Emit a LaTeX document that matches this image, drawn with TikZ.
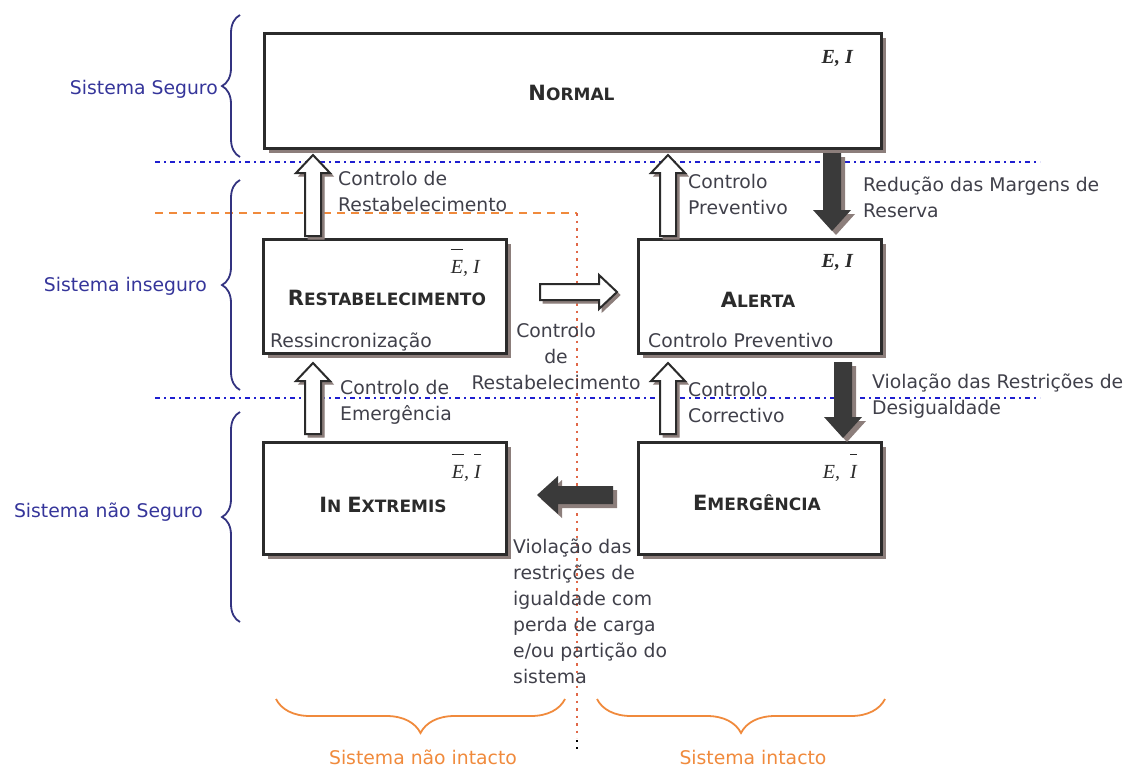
\documentclass[tikz,border=0pt]{standalone}
\usepackage{fontspec}
\setmainfont{DejaVu Sans}
\newfontfamily\tnr{Liberation Serif}
\usetikzlibrary{calc,shadows,decorations.pathreplacing}

\definecolor{boxline}{HTML}{2B2B2B}
\definecolor{shadowc}{HTML}{8C7E7B}
\definecolor{txt}{HTML}{40404A}
\definecolor{navy}{HTML}{35359A}
\definecolor{bracec}{HTML}{333380}
\definecolor{bluel}{HTML}{1F1FD0}
\definecolor{orangel}{HTML}{F08A3C}
\definecolor{redl}{HTML}{E06848}
\definecolor{darkarr}{HTML}{3A3A3A}

\newcommand\lblfont{\fontsize{18.8}{26}\selectfont}
\newcommand\bigcapf{\fontsize{21}{24}\selectfont}
\newcommand\smcapf{\fontsize{17}{20}\selectfont}
\newcommand\mthfont{\tnr\itshape\fontsize{20}{22}\selectfont}
\newcommand\myovl[1]{\setbox0\hbox{#1}\rlap{\raisebox{23pt}{\rule{\wd0}{1.3pt}}}\box0}

% block arrow: style, from, to, half shaft, half head, head length
\newcommand\blkarrow[6]{%
  \path[#1] let \p1=(#2), \p2=(#3), \p3=($(\p2)!#6!(\p1)$) in
    ($(\p1)!#4!90:(\p2)$) -- ($(\p3)!#4!90:(\p2)$) -- ($(\p3)!#5!90:(\p2)$) -- (\p2)
    -- ($(\p3)!#5!-90:(\p2)$) -- ($(\p3)!#4!-90:(\p2)$) -- ($(\p1)!#4!-90:(\p2)$) -- cycle;}
\newcommand\hollowblk[2]{%
  \blkarrow{fill=shadowc,draw=shadowc,line width=1pt,transform canvas={shift={(3pt,-3pt)}}}{#1}{#2}{8pt}{17pt}{18pt}%
  \blkarrow{fill=white,draw=boxline,line width=2pt,line join=miter}{#1}{#2}{8pt}{17pt}{18pt}}
\newcommand\darkblk[2]{%
  \blkarrow{fill=shadowc,transform canvas={shift={(4pt,-4pt)}}}{#1}{#2}{9pt}{19pt}{21pt}%
  \blkarrow{fill=darkarr}{#1}{#2}{9pt}{19pt}{21pt}}

\tikzset{
  box/.style={draw=boxline, line width=2.5pt, fill=white, anchor=north west, inner sep=0pt,
    general shadow={fill=shadowc, shadow xshift=5pt, shadow yshift=-5pt}},
  lab/.style={text=txt, font=\lblfont, inner sep=0pt, align=left, anchor=north west},
  slab/.style={text=txt, font=\lblfont, inner sep=0pt, anchor=base west},
  side/.style={text=navy, font=\lblfont, inner sep=0pt, anchor=base east},
  bot/.style={text=orangel, font=\lblfont, inner sep=0pt, anchor=base},
  ttl/.style={text=boxline, font=\bfseries, inner sep=0pt, anchor=base},
  mth/.style={text=boxline, font=\mthfont, inner sep=0pt, anchor=base east},
  blueline/.style={draw=bluel, line width=2pt, dash pattern=on 5pt off 4pt on 2pt off 4pt},
  orangeline/.style={draw=orangel, line width=1.5pt, dash pattern=on 8pt off 6pt},
  redline/.style={draw=redl, line width=1.6pt, dash pattern=on 2.5pt off 5pt},
  lbrace/.style={draw=bracec, line width=1.8pt, decorate, decoration={brace, amplitude=18pt}},
  obrace/.style={draw=orangel, line width=1.8pt, decorate, decoration={brace, amplitude=34pt}},
}

\begin{document}
\begin{tikzpicture}[x=1pt,y=-1pt]
\useasboundingbox (0,0) rectangle (1130,769);

% separator lines
\draw[blueline] (155,162) -- (1040,162);
\draw[blueline] (155,398) -- (1040,398);
\draw[orangeline] (155,213) -- (577,213);
\draw[redline] (577,213) -- (577,738);
\draw[draw=black, line width=1.6pt, dash pattern=on 2pt off 5pt] (577,740) -- (577,752);

% boxes
\node[box, minimum width=617pt, minimum height=115pt] (normal) at (263,32) {};
\node[box, minimum width=243pt, minimum height=114pt] (restab) at (262,238) {};
\node[box, minimum width=243pt, minimum height=114pt] (alerta) at (637,238) {};
\node[box, minimum width=243pt, minimum height=112pt] (inext) at (262,441) {};
\node[box, minimum width=243pt, minimum height=112pt] (emerg) at (637,441) {};

% titles
\node[ttl] (tnormal) at (571.5,100) {\bigcapf N\smcapf ORMAL};
\node[ttl] (trestab) at (387,305) {\bigcapf R\smcapf ESTABELECIMENTO};
\node[ttl] (talerta) at (758,307) {\bigcapf A\smcapf LERTA};
\node[ttl] (tinext) at (383,512) {\bigcapf I\smcapf N \bigcapf E\smcapf XTREMIS};
\node[ttl] (temerg) at (757,510) {\bigcapf E\smcapf MERGÊNCIA};

% state labels
\node[mth, font=\mthfont\bfseries] (mnormal) at (853,63) {E, I};
\node[mth] (mrestab) at (480,273) {\myovl{E} , I};
\node[mth, font=\mthfont\bfseries] (malerta) at (853,267) {E, I};
\node[mth] (minext) at (481,478) {\myovl{E} , \myovl{I}};
\node[mth] (memerg) at (857,478) {E,\enspace\myovl{I}};

\node[slab] (ressinc) at (270,347) {Ressincronização};
\node[slab] (cprev) at (648,347) {Controlo Preventivo};

% arrows
\coordinate (a1s) at (313,236); \coordinate (a1e) at (313,155);
\coordinate (a2s) at (668,236); \coordinate (a2e) at (668,155);
\coordinate (a3s) at (832,153); \coordinate (a3e) at (832,231);
\coordinate (a4s) at (540,292); \coordinate (a4e) at (617,292);
\coordinate (a5s) at (313,434); \coordinate (a5e) at (313,363);
\coordinate (a6s) at (668,434); \coordinate (a6e) at (668,363);
\coordinate (a7s) at (843,362); \coordinate (a7e) at (843,438);
\coordinate (a8s) at (613,495); \coordinate (a8e) at (537,495);
\hollowblk{a1s}{a1e}
\hollowblk{a2s}{a2e}
\darkblk{a3s}{a3e}
\hollowblk{a4s}{a4e}
\hollowblk{a5s}{a5e}
\hollowblk{a6s}{a6e}
\darkblk{a7s}{a7e}
\darkblk{a8s}{a8e}

% arrow labels
\node[lab] (l1) at (338,171) {Controlo de\\Restabelecimento};
\node[lab] (l2) at (688,174) {Controlo\\Preventivo};
\node[lab] (l3) at (863,177) {Redução das Margens de\\Reserva};
\node[lab, align=center, anchor=north] (l4) at (556,323) {Controlo\\de\\Restabelecimento};
\node[lab] (l5) at (340,380) {Controlo de\\Emergência};
\node[lab] (l6) at (688,382) {Controlo\\Correctivo};
\node[lab] (l7) at (872,374) {Violação das Restrições de\\Desigualdade};
\node[lab] (l8) at (513,539) {Violação das\\restrições de\\igualdade com\\perda de carga\\e/ou partição do\\sistema};

% side braces
\draw[lbrace] (240,157) -- (240,15);
\draw[lbrace] (240,390) -- (240,180);
\draw[lbrace] (240,622) -- (240,412);
\node[side] (sseg) at (218,94) {Sistema Seguro};
\node[side] (sins) at (207,291) {Sistema inseguro};
\node[side] (snseg) at (203,517) {Sistema não Seguro};

% bottom braces
\draw[obrace] (565,699) -- (276,699);
\draw[obrace] (885,699) -- (597,699);
\node[bot] (bni) at (423,764) {Sistema não intacto};
\node[bot] (bi) at (753,764) {Sistema intacto};
\end{tikzpicture}
\end{document}
